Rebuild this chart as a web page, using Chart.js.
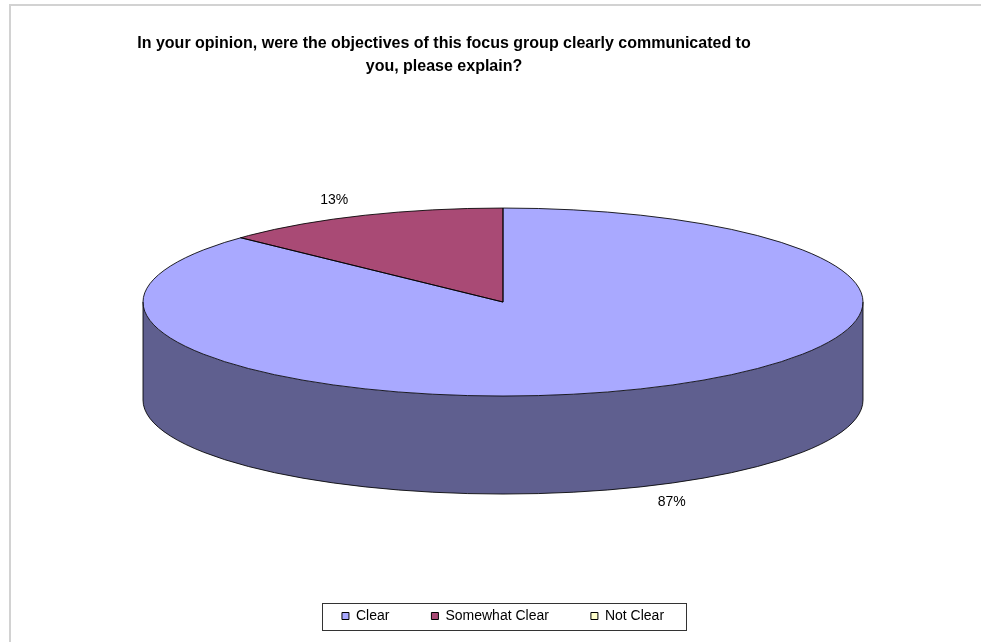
<!DOCTYPE html>
<html>
<head>
<meta charset="utf-8">
<script src="https://cdn.jsdelivr.net/npm/chart.js@4/dist/chart.umd.min.js"></script>
<style>
html,body{margin:0;padding:0;background:#fff;}
#wrap{position:relative;width:981px;height:642px;}
</style>
</head>
<body>
<div id="wrap"><canvas id="c" width="981" height="642"></canvas></div>
<script>
// ---- data ----
const categories = ['Clear', 'Somewhat Clear', 'Not Clear'];
const percentValues = [87, 13, 0];
const titleLines = ['In your opinion, were the objectives of this focus group clearly communicated to', 'you, please explain?'];

// ---- styles ----
const sliceColors = ['#a9a9ff', '#a94a75', '#ffffcc'];
const sideColors = ['#5f5f8f', '#6b2f4b', '#a3a382'];
const FONT = "'Liberation Sans', Arial, Helvetica, sans-serif";
const TILT = 94 / 360;      // vertical squash of the pie
const DEPTH = 98;           // thickness of the 3D pie in px
const PIE_RADIUS = 360;
const LABEL_RADIUS = 1.18;
const TITLE_CENTER_X = 444;

function frontSegments(a0, a1) {
  const TWO = Math.PI * 2, segs = [];
  for (let k = -2; k <= 2; k++) {
    const lo = Math.max(a0, k * TWO), hi = Math.min(a1, k * TWO + Math.PI);
    if (hi > lo) segs.push([lo - k * TWO, hi - k * TWO]);
  }
  return segs;
}

const framePlugin = {
  id: 'frame',
  beforeDraw(chart) {
    const ctx = chart.ctx;
    ctx.save();
    ctx.fillStyle = '#fff';
    ctx.fillRect(0, 0, chart.width, chart.height);
    ctx.strokeStyle = '#d2d2d2';
    ctx.lineWidth = 2;
    ctx.strokeRect(10, 5, chart.width + 20, chart.height + 20);
    ctx.restore();
  },
  afterLayout(chart) {
    const t = chart.titleBlock;
    if (t) { const w = t.right - t.left; t.left = TITLE_CENTER_X - w / 2; t.right = t.left + w; }
  },
  afterDraw(chart) {
    const hb = chart.legend && chart.legend.legendHitBoxes;
    if (!hb || !hb.length) return;
    const ctx = chart.ctx;
    const first = hb[0], last = hb[hb.length - 1];
    const cy = first.top + first.height / 2;
    ctx.save();
    ctx.strokeStyle = '#333';
    ctx.lineWidth = 1;
    ctx.strokeRect(Math.round(first.left - 20) + 0.5, Math.round(cy - 13) + 0.5,
      Math.round(last.left + last.width + 22 - (first.left - 20)), 27);
    ctx.restore();
  }
};

const pie3dPlugin = {
  id: 'pie3d',
  beforeDatasetsDraw(chart) {
    const ctx = chart.ctx;
    const arcs = chart.getDatasetMeta(0).data;
    if (!arcs.length) return;
    const {x, y, outerRadius: r} = arcs[0];
    // side walls (front half only)
    ctx.save();
    arcs.forEach((el, i) => {
      if (el.endAngle - el.startAngle <= 0) return;
      frontSegments(el.startAngle, el.endAngle).forEach(([a, b]) => {
        ctx.beginPath();
        ctx.ellipse(x, y, r, r * TILT, 0, a, b, false);
        ctx.ellipse(x, y + DEPTH, r, r * TILT, 0, b, a, true);
        ctx.closePath();
        ctx.fillStyle = sideColors[i];
        ctx.fill();
      });
    });
    ctx.restore();
    // squash the library-drawn slices into the top face
    ctx.save();
    ctx.translate(x, y);
    ctx.scale(1, TILT);
    ctx.translate(-x, -y);
  },
  afterDatasetsDraw(chart) {
    const ctx = chart.ctx;
    ctx.restore();
    const arcs = chart.getDatasetMeta(0).data;
    if (!arcs.length) return;
    const {x, y, outerRadius: r} = arcs[0];
    const ry = r * TILT;
    ctx.save();
    ctx.strokeStyle = 'rgba(0,0,0,0.85)';
    ctx.lineWidth = 1;
    // side outline
    ctx.beginPath();
    ctx.moveTo(x + r, y); ctx.lineTo(x + r, y + DEPTH);
    ctx.moveTo(x - r, y); ctx.lineTo(x - r, y + DEPTH);
    ctx.stroke();
    ctx.beginPath();
    ctx.ellipse(x, y + DEPTH, r, ry, 0, 0, Math.PI, false);
    ctx.stroke();
    // top ellipse
    ctx.beginPath();
    ctx.ellipse(x, y, r, ry, 0, 0, Math.PI * 2);
    ctx.stroke();
    // slice boundaries
    const total = percentValues.reduce((s, v) => s + v, 0);
    arcs.forEach((el, i) => {
      if (el.endAngle - el.startAngle <= 0 || percentValues[i] >= total) return;
      [el.startAngle, el.endAngle].forEach(a => {
        const ex = x + r * Math.cos(a), ey = y + ry * Math.sin(a);
        ctx.beginPath();
        ctx.moveTo(x, y); ctx.lineTo(ex, ey);
        if (Math.sin(a) > 0) ctx.lineTo(ex, ey + DEPTH);
        ctx.stroke();
      });
    });
    // percentage labels
    ctx.fillStyle = '#000';
    ctx.font = '14px ' + FONT;
    ctx.textAlign = 'center';
    ctx.textBaseline = 'middle';
    arcs.forEach((el, i) => {
      if (!percentValues[i]) return;
      const mid = (el.startAngle + el.endAngle) / 2;
      const s = Math.sin(mid), c = Math.cos(mid);
      const baseY = s > 0 ? y + DEPTH : y;
      const lx = x + r * LABEL_RADIUS * c;
      const ly = baseY + ry * LABEL_RADIUS * s;
      ctx.fillText(Math.round(percentValues[i] / total * 100) + '%', lx, ly);
    });
    ctx.restore();
  }
};

const chart = new Chart(document.getElementById('c'), {
  type: 'pie',
  data: {
    labels: categories,
    datasets: [{
      data: percentValues,
      backgroundColor: sliceColors,
      borderWidth: 0,
      radius: PIE_RADIUS,
      clip: false
    }]
  },
  options: {
    responsive: false,
    animation: false,
    events: [],
    layout: { padding: { top: 0, left: 25, right: 0, bottom: 9 } },
    plugins: {
      title: {
        display: true,
        text: titleLines,
        color: '#000',
        font: { family: FONT, size: 16, weight: 'bold', lineHeight: 1.44 },
        padding: { top: 32, bottom: -41 }
      },
      legend: {
        position: 'bottom',
        labels: {
          boxWidth: 7,
          boxHeight: 7,
          padding: 42,
          color: '#000',
          font: { family: FONT, size: 14 },
          generateLabels(ch) {
            const items = Chart.overrides.pie.plugins.legend.labels.generateLabels(ch);
            items.forEach(it => { it.strokeStyle = '#000'; it.lineWidth = 1; it.hidden = false; });
            return items;
          }
        }
      },
      tooltip: { enabled: false }
    }
  },
  plugins: [framePlugin, pie3dPlugin]
});
</script>
</body>
</html>
